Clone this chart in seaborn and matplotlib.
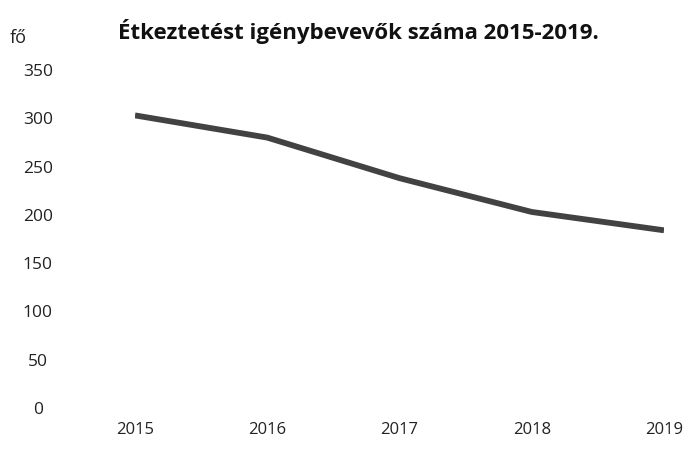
import matplotlib
matplotlib.use("Agg")
import matplotlib.pyplot as plt
import seaborn as sns
import pandas as pd

# data
years = [2015, 2016, 2017, 2018, 2019]
counts = [303, 280, 238, 203, 184]
y_ticks = [0, 50, 100, 150, 200, 250, 300, 350]
title = "Étkeztetést igénybevevők száma 2015-2019."
unit = "fő"

sns.set_theme(style="white")
plt.rcParams['font.family'] = ['Open Sans', 'DejaVu Sans']

df = pd.DataFrame({"ev": years, "fo": counts})

fig = plt.figure(figsize=(6.91, 4.63), dpi=100)
ax = fig.add_axes([135/691, 1-408/463, (664-135)/691, (408-70)/463])

sns.lineplot(data=df, x="ev", y="fo", ax=ax, color="#424242", linewidth=4.2,
             solid_capstyle="butt")

ax.set_xlim(2015, 2019)
ax.set_ylim(0, 350)
ax.set_xticks(years)
ax.set_xticklabels([str(y) for y in years], fontsize=12, color="#222222")
ax.set_yticks(y_ticks)
ax.set_yticklabels([str(v) for v in y_ticks], fontsize=12.5, color="#222222",
                   ha="center")
ax.tick_params(axis="y", length=0, pad=70)
ax.tick_params(axis="x", length=0, pad=10)
ax.set_xlabel("")
ax.set_ylabel("")
sns.despine(ax=ax, left=True, bottom=True)
ax.grid(False)

fig.text(118/691, 1-32/463, title, fontsize=16, fontweight="bold",
         va="center", ha="left", color="#111111")
fig.text(10/691, 1-38/463, unit, fontsize=13, va="center", ha="left",
         color="#222222")

fig.savefig("out.png", dpi=100)
